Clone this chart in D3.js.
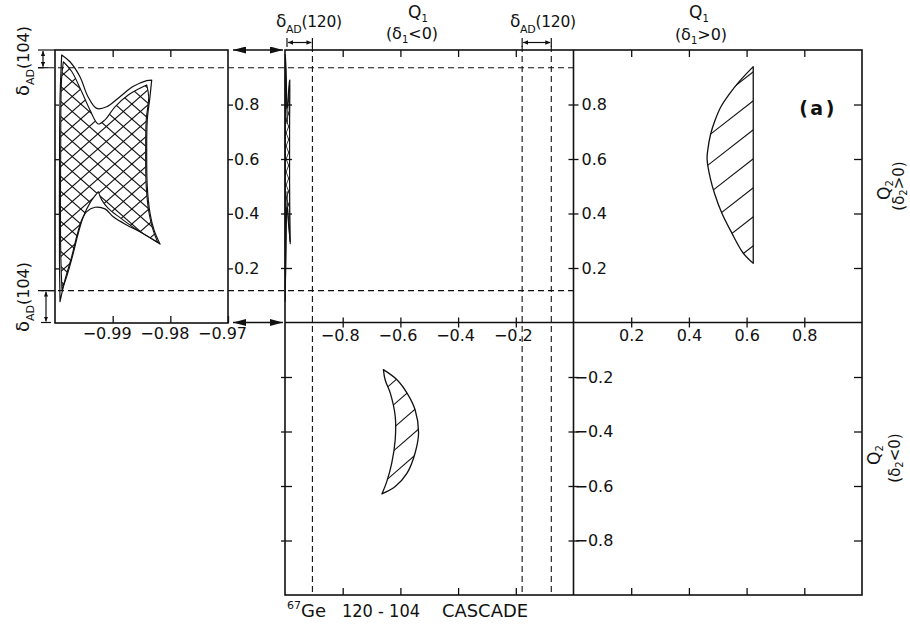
<!DOCTYPE html>
<html>
<head>
<meta charset="utf-8">
<title>67Ge 120-104 cascade</title>
<script src="https://cdn.jsdelivr.net/npm/d3@7/dist/d3.min.js"></script>
<style>
  html, body { margin: 0; background: #fff; }
  svg { display: block; }
  text { font-family: "DejaVu Sans", "Liberation Sans", sans-serif; fill: #111; }
</style>
</head>
<body>
<svg id="chart" width="910" height="625"></svg>
<script>
// ---------------- data ----------------
// tick values
const q2TicksUpper = [0.2, 0.4, 0.6, 0.8];
const q2TicksLower = [-0.8, -0.6, -0.4, -0.2];
const q1TicksNeg = [-0.8, -0.6, -0.4, -0.2];
const q1TicksPos = [0.2, 0.4, 0.6, 0.8];
const insetQ1Ticks = [-0.99, -0.98, -0.97];
const insetQ2Ticks = [0.2, 0.4, 0.6, 0.8];

// delta_AD limits: Q1 (vertical dashes) and Q2 (horizontal dashes)
const deltaAD120 = [-0.905, -0.178, -0.077];
const deltaAD104 = [0.935, 0.117];

// allowed region, delta1>0 / delta2>0 : curved boundary, top to bottom (closed by a straight edge)
const lensArc = [[0.623,0.939],[0.575,0.885],[0.542,0.841],[0.510,0.790],[0.490,0.740],
  [0.475,0.690],[0.465,0.630],[0.463,0.600],[0.474,0.530],[0.490,0.470],[0.514,0.402],
  [0.548,0.330],[0.588,0.255],[0.623,0.217]];

// allowed region, delta1<0 / delta2<0
const crescentOuter = [[-0.659,-0.173],[-0.612,-0.210],[-0.577,-0.259],[-0.549,-0.320],
  [-0.537,-0.405],[-0.549,-0.479],[-0.577,-0.553],[-0.618,-0.602],[-0.664,-0.629]];
const crescentInner = [[-0.664,-0.629],[-0.647,-0.583],[-0.630,-0.516],[-0.618,-0.430],
  [-0.618,-0.344],[-0.635,-0.259],[-0.653,-0.210],[-0.659,-0.173]];

// strip near Q1 = -1 : outer envelope
const stripOuterTop = [[-0.99884,0.982],[-0.99740,0.957],[-0.99567,0.902],[-0.99428,0.829],
  [-0.99277,0.786],[-0.99104,0.792],[-0.98873,0.829],[-0.98647,0.866],[-0.98410,0.888],[-0.98323,0.890]];
const stripOuterRight = [[-0.98323,0.890],[-0.98353,0.829],[-0.98400,0.744],[-0.98410,0.623],
  [-0.98400,0.499],[-0.98353,0.403],[-0.98283,0.341],[-0.98179,0.289]];
const stripOuterBottom = [[-0.98179,0.289],[-0.98526,0.334],[-0.98757,0.359],[-0.98989,0.389],
  [-0.99133,0.418],[-0.99306,0.424],[-0.99450,0.408],[-0.99537,0.377],[-0.99624,0.316],
  [-0.99710,0.243],[-0.99827,0.158],[-0.99913,0.078]];
const stripOuterLeft = [[-0.99913,0.078],[-0.99922,0.231],[-0.99922,0.524],[-0.99913,0.817],[-0.99884,0.982]];

// strip near Q1 = -1 : cross-hatched core
const stripInnerTop = [[-0.99856,0.957],[-0.99710,0.921],[-0.99537,0.847],[-0.99393,0.780],
  [-0.99249,0.729],[-0.99133,0.744],[-0.98960,0.792],[-0.98729,0.835],[-0.98526,0.860],[-0.98410,0.872]];
const stripInnerRight = [[-0.98410,0.872],[-0.98375,0.829],[-0.98418,0.744],[-0.98428,0.623],
  [-0.98418,0.499],[-0.98370,0.403],[-0.98300,0.341],[-0.98220,0.296]];
const stripInnerBottom = [[-0.98220,0.296],[-0.98583,0.342],[-0.98873,0.386],[-0.99076,0.420],
  [-0.99190,0.451],[-0.99249,0.481]];
const stripInnerLowerLeft = [[-0.99249,0.481],[-0.99393,0.440],[-0.99509,0.389],[-0.99596,0.329],
  [-0.99683,0.255],[-0.99797,0.170],[-0.99879,0.121]];
const stripInnerLeft = [[-0.99879,0.121],[-0.99901,0.267],[-0.99901,0.634],[-0.99887,0.890],[-0.99856,0.957]];

// ---------------- layout ----------------
const svg = d3.select("#chart");
const INK = "#111";
const xMain = d3.scaleLinear().domain([-1, 1]).range([285, 862]);
const yMain = d3.scaleLinear().domain([-1, 1]).range([595, 50]);
const xInset = d3.scaleLinear().domain([-1, -0.97]).range([55, 228]);
const yInset = d3.scaleLinear().domain([0, 1]).range([323, 50]);

const defs = svg.append("defs");
function arrowMarker(id, len, half) {
  defs.append("marker").attr("id", id)
    .attr("markerUnits", "userSpaceOnUse")
    .attr("viewBox", `0 0 ${len} ${half * 2}`)
    .attr("refX", len).attr("refY", half)
    .attr("markerWidth", len).attr("markerHeight", half * 2)
    .attr("orient", "auto-start-reverse")
    .append("path").attr("d", `M0,0L${len},${half}L0,${half * 2}Z`).attr("fill", INK);
}
arrowMarker("arrowBig", 13, 3.5);
arrowMarker("arrowSmall", 5, 2.2);

// smooth closed outline made of several smooth pieces joined at sharp corners
function smoothPath(segs, sx, sy) {
  const line = d3.line().x(d => sx(d[0])).y(d => sy(d[1])).curve(d3.curveCatmullRom.alpha(0.5));
  return segs.map((s, i) => { const d = line(s); return i === 0 ? d : "L" + d.slice(1); }).join("") + "Z";
}

// parallel hatch lines clipped to a region
let clipCount = 0;
function hatch(parent, d, families, width) {
  const id = "clip" + (clipCount++);
  defs.append("clipPath").attr("id", id).append("path").attr("d", d);
  const tmp = parent.append("path").attr("d", d);
  const bb = tmp.node().getBBox();
  tmp.remove();
  const g = parent.append("g").attr("clip-path", `url(#${id})`)
    .attr("stroke", INK).attr("stroke-width", width || 1);
  families.forEach(f => {
    const m = f.slope, step = f.step, off = f.offset || 0;
    const xa = bb.x - 2, xb = bb.x + bb.width + 2;
    const cmin = bb.y - 2 - Math.max(m * xa, m * xb);
    const cmax = bb.y + bb.height + 2 - Math.min(m * xa, m * xb);
    for (let c = Math.floor((cmin - off) / step) * step + off; c <= cmax; c += step) {
      g.append("line").attr("x1", xa).attr("y1", m * xa + c).attr("x2", xb).attr("y2", m * xb + c);
    }
  });
}

function outline(parent, d, w) {
  parent.append("path").attr("d", d).attr("fill", "none").attr("stroke", INK)
    .attr("stroke-width", w || 1.2).attr("stroke-linejoin", "round");
}

const fmt1 = d => (d < 0 ? "\u2212" : "") + Math.abs(d).toFixed(1);
const fmt2 = d => (d < 0 ? "\u2212" : "") + Math.abs(d).toFixed(2);

function styleAxis(g, size) {
  g.attr("font-family", null).attr("font-size", size || 16);
  g.select(".domain").remove();
  g.selectAll(".tick line").attr("stroke", INK).attr("stroke-width", 1.3);
  g.selectAll(".tick text").attr("fill", INK);
  return g;
}

// rich text: parts = [text, shift(+1 sub, -1 sup, 0 base), fontSize]
function rich(x, y, parts, o = {}) {
  const t = svg.append("text").attr("x", x).attr("y", y)
    .attr("font-size", o.size || 16).attr("text-anchor", o.anchor || "start");
  if (o.rotate) t.attr("transform", `rotate(${o.rotate},${x},${y})`);
  if (o.spacing) t.attr("letter-spacing", o.spacing);
  let cur = 0;
  parts.forEach(([s, shift, sz]) => {
    const target = shift * (o.shift || 6);
    const ts = t.append("tspan").attr("dy", target - cur).text(s);
    if (sz) ts.attr("font-size", sz);
    cur = target;
  });
  return t;
}

// ---------------- frames ----------------
svg.append("rect").attr("x", xMain(-1)).attr("y", yMain(1))
  .attr("width", xMain(1) - xMain(-1)).attr("height", yMain(-1) - yMain(1))
  .attr("fill", "none").attr("stroke", INK).attr("stroke-width", 1.6);
svg.append("line").attr("x1", xMain(-1)).attr("x2", xMain(1)).attr("y1", yMain(0)).attr("y2", yMain(0))
  .attr("stroke", INK).attr("stroke-width", 1.6);
svg.append("line").attr("x1", xMain(0)).attr("x2", xMain(0)).attr("y1", yMain(1)).attr("y2", yMain(-1))
  .attr("stroke", INK).attr("stroke-width", 1.6);
svg.append("rect").attr("x", xInset(-1)).attr("y", yInset(1))
  .attr("width", xInset(-0.97) - xInset(-1)).attr("height", yInset(0) - yInset(1))
  .attr("fill", "none").attr("stroke", INK).attr("stroke-width", 1.6);

// ---------------- regions ----------------
const gShapes = svg.append("g");

// inset: strip, magnified
const stripOuterSegs = [stripOuterTop, stripOuterRight, stripOuterBottom, stripOuterLeft];
const stripInnerSegs = [stripInnerTop, stripInnerRight, stripInnerBottom, stripInnerLowerLeft, stripInnerLeft];
const insetInnerD = smoothPath(stripInnerSegs, xInset, yInset);
hatch(gShapes, insetInnerD, [{ slope: 0.88, step: 15, offset: 3 }, { slope: -0.88, step: 15, offset: 10 }], 1.1);
outline(gShapes, insetInnerD, 1.1);
outline(gShapes, smoothPath(stripOuterSegs, xInset, yInset), 1.2);

// same strip at the main scale
const mainInnerD = smoothPath(stripInnerSegs, xMain, yMain);
hatch(gShapes, mainInnerD, [{ slope: 2.6, step: 13, offset: 0 }, { slope: -2.6, step: 13, offset: 6 }], 0.8);
outline(gShapes, mainInnerD, 0.8);
outline(gShapes, smoothPath(stripOuterSegs, xMain, yMain), 1.1);

// delta1>0, delta2>0 region
const lensD = smoothPath([lensArc], xMain, yMain);
hatch(gShapes, lensD, [{ slope: -0.78, step: 29, offset: 21.3 }], 1.1);
outline(gShapes, lensD, 1.3);

// delta1<0, delta2<0 region
const crescentD = smoothPath([crescentOuter, crescentInner], xMain, yMain);
hatch(gShapes, crescentD, [{ slope: -0.87, step: 23, offset: 11.2 }], 1.1);
outline(gShapes, crescentD, 1.3);

// ---------------- dashed delta_AD guides ----------------
const gDash = svg.append("g").attr("stroke", INK).attr("stroke-width", 1.1).attr("stroke-dasharray", "6,4");
deltaAD104.forEach(v => {
  gDash.append("line").attr("x1", 38).attr("x2", xMain(0)).attr("y1", yMain(v)).attr("y2", yMain(v));
});
deltaAD120.forEach(v => {
  gDash.append("line").attr("x1", xMain(v)).attr("x2", xMain(v)).attr("y1", 46).attr("y2", yMain(-1));
});

// brackets marking delta_AD(120)
const gBr = svg.append("g").attr("stroke", INK).attr("stroke-width", 1.2);
[[xMain(-1) + 2, xMain(deltaAD120[0])], [xMain(deltaAD120[1]), xMain(deltaAD120[2])]].forEach(([a, b]) => {
  gBr.append("line").attr("x1", a).attr("x2", a).attr("y1", 38).attr("y2", 47);
  gBr.append("line").attr("x1", b).attr("x2", b).attr("y1", 38).attr("y2", 47);
  gBr.append("line").attr("x1", a + 1).attr("x2", b - 1).attr("y1", 42.5).attr("y2", 42.5)
    .attr("marker-start", "url(#arrowSmall)").attr("marker-end", "url(#arrowSmall)");
});
// brackets marking delta_AD(104)
[[43, yMain(1), yMain(deltaAD104[0])], [46, yMain(deltaAD104[1]), yMain(0)]].forEach(([x, a, b]) => {
  gBr.append("line").attr("x1", x - 5).attr("x2", xInset(-1)).attr("y1", a).attr("y2", a);
  gBr.append("line").attr("x1", x - 5).attr("x2", x + 5).attr("y1", b).attr("y2", b);
  gBr.append("line").attr("x1", x).attr("x2", x).attr("y1", a + 1).attr("y2", b - 1)
    .attr("marker-start", "url(#arrowSmall)").attr("marker-end", "url(#arrowSmall)");
});
// double arrows linking the inset to the main frame
[yMain(1), yMain(0)].forEach(y => {
  gBr.append("line").attr("x1", 233).attr("x2", 283).attr("y1", y).attr("y2", y).attr("stroke-width", 1.5)
    .attr("marker-start", "url(#arrowBig)").attr("marker-end", "url(#arrowBig)");
});

// ---------------- axes ----------------
const allQ2 = [...q2TicksLower, ...q2TicksUpper];
const allQ1 = [...q1TicksNeg, ...q1TicksPos];

// central Q2 axis with labels
const gYc = styleAxis(svg.append("g").attr("transform", `translate(${xMain(0)},0)`)
  .call(d3.axisRight(yMain).tickValues(allQ2).tickSize(5).tickPadding(3).tickFormat(fmt1)));
gYc.selectAll(".tick line").attr("x1", -5);
gYc.selectAll(".tick text").attr("x", d => d < 0 ? 1 : 8);

// central Q1 axis with labels
const gXc = styleAxis(svg.append("g").attr("transform", `translate(0,${yMain(0)})`)
  .call(d3.axisBottom(xMain).tickValues(allQ1).tickSize(5).tickPadding(2).tickFormat(fmt1)));
gXc.selectAll(".tick line").attr("y1", -5);
gXc.selectAll(".tick text").attr("dx", d => d < 0 ? -3 : 0);

// frame ticks
styleAxis(svg.append("g").attr("transform", `translate(0,${yMain(1)})`)
  .call(d3.axisBottom(xMain).tickValues(allQ1).tickSize(7).tickFormat("")));
styleAxis(svg.append("g").attr("transform", `translate(0,${yMain(-1)})`)
  .call(d3.axisTop(xMain).tickValues(allQ1).tickSize(7).tickFormat("")));
styleAxis(svg.append("g").attr("transform", `translate(${xMain(-1)},0)`)
  .call(d3.axisRight(yMain).tickValues(allQ2).tickSize(7).tickFormat("")))
  .selectAll(".tick line").attr("x1", -4);
styleAxis(svg.append("g").attr("transform", `translate(${xMain(1)},0)`)
  .call(d3.axisLeft(yMain).tickValues(allQ2).tickSize(8).tickFormat("")));

// inset axes
styleAxis(svg.append("g").attr("transform", `translate(0,${yInset(1)})`)
  .call(d3.axisBottom(xInset).tickValues(insetQ1Ticks.slice(0, 2)).tickSize(7).tickFormat("")));
const gIb = styleAxis(svg.append("g").attr("transform", `translate(0,${yInset(0)})`)
  .call(d3.axisBottom(xInset).tickValues(insetQ1Ticks).tickSize(-7).tickPadding(5).tickFormat(fmt2)));
gIb.selectAll(".tick text").attr("dx", -6);
styleAxis(svg.append("g").attr("transform", `translate(${xInset(-1)},0)`)
  .call(d3.axisRight(yInset).tickValues(insetQ2Ticks).tickSize(4).tickFormat("")));
styleAxis(svg.append("g").attr("transform", `translate(${xInset(-0.97)},0)`)
  .call(d3.axisRight(yInset).tickValues(insetQ2Ticks).tickSize(5).tickPadding(1).tickFormat(fmt1)));

// ---------------- labels ----------------
rich(276, 27, [["\u03b4", 0, 17], ["AD", 1, 11], ["(120)", 0, 15.5]], { spacing: -0.3 });
rich(510, 27, [["\u03b4", 0, 17], ["AD", 1, 11], ["(120)", 0, 15.5]], { spacing: -0.3 });

rich(418, 18, [["Q", 0, 17], ["1", 1, 10]], { anchor: "middle", shift: 4 });
rich(412, 39, [["(\u03b4", 0], ["1", 1, 10], ["<0)", 0]], { anchor: "middle", size: 16, shift: 4 });
rich(699, 18, [["Q", 0, 17], ["1", 1, 10]], { anchor: "middle", shift: 4 });
rich(701, 40, [["(\u03b4", 0], ["1", 1, 10], [">0)", 0]], { anchor: "middle", size: 16, shift: 4 });

rich(29, 96, [["\u03b4", 0, 18], ["AD", 1, 11], ["(104)", 0, 16]], { rotate: -90, shift: 5 });
rich(29, 332, [["\u03b4", 0, 18], ["AD", 1, 11], ["(104)", 0, 16]], { rotate: -90, shift: 5 });

rich(890, 190, [["Q", 0, 17], ["2", 1, 10]], { rotate: -90, anchor: "middle", shift: 3 });
rich(904, 186, [["(\u03b4", 0], ["2", 1, 10], [">0)", 0]], { rotate: -90, anchor: "middle", size: 15, shift: 3 });
rich(880, 455, [["Q", 0, 17], ["2", 1, 10]], { rotate: -90, anchor: "middle", shift: 3 });
rich(900, 458, [["(\u03b4", 0], ["2", 1, 10], ["<0)", 0]], { rotate: -90, anchor: "middle", size: 15, shift: 3 });

svg.append("text").attr("x", 818).attr("y", 115).attr("text-anchor", "middle")
  .attr("font-size", 19).attr("font-weight", "bold").attr("letter-spacing", 2.5).text("(a)");

rich(287, 617, [["67", -1, 11], ["Ge", 0, 18]], { shift: 8 });
svg.append("text").attr("x", 342).attr("y", 617).attr("font-size", 18)
  .attr("textLength", 78).attr("lengthAdjust", "spacingAndGlyphs").text("120 - 104");
svg.append("text").attr("x", 442).attr("y", 617).attr("font-size", 18)
  .attr("textLength", 86).attr("lengthAdjust", "spacingAndGlyphs").text("CASCADE");
</script>
</body>
</html>
